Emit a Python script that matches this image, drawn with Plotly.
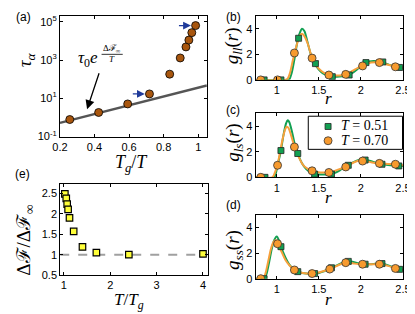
import numpy as np
import plotly.graph_objects as go

W, H = 415, 314

# ---------------- data ----------------
# (a) relaxation time vs Tg/T
tg_over_t = [0.257, 0.424, 0.592, 0.718, 0.835, 0.896, 0.929, 0.946, 0.963, 0.985]
tau_alpha = [0.76, 1.78, 5.0, 16.7, 182, 1290, 4900, 11200, 27500, 64500]
fit_x = [0.2, 1.05]
fit_tau = [0.507, 46.4]

# (e) barrier ratio vs T/Tg
t_over_tg = [1.02, 1.05, 1.07, 1.09, 1.12, 1.21, 1.40, 1.70, 2.40, 4.0]
dF_ratio = [2.49, 2.38, 2.24, 2.11, 1.90, 1.57, 1.19, 1.05, 1.0, 1.02]

# (b) g_ll(r)
b_r_green = [0.75, 1.12, 1.15, 1.18, 1.21, 1.24, 1.27, 1.30, 1.33, 1.36, 1.40, 1.45, 1.50, 1.55, 1.60, 1.65,
             1.70, 1.75, 1.80, 1.85, 1.90, 1.95, 2.00, 2.05, 2.10, 2.15, 2.20, 2.25, 2.30, 2.35, 2.40, 2.45, 2.50]
b_g_green = [0, 0, 0.05, 0.6, 1.6, 2.8, 3.6, 4.0, 3.8, 3.1, 2.1, 1.27, 0.8, 0.5, 0.35, 0.27,
             0.25, 0.27, 0.3, 0.38, 0.55, 0.8, 1.1, 1.33, 1.43, 1.47, 1.45, 1.38, 1.27, 1.15, 1.05, 0.98, 0.94]
b_r_orange = [0.75, 1.10, 1.13, 1.16, 1.19, 1.22, 1.25, 1.28, 1.30, 1.33, 1.37, 1.42, 1.47, 1.52, 1.57, 1.62,
              1.67, 1.72, 1.77, 1.82, 1.87, 1.92, 1.97, 2.02, 2.07, 2.12, 2.17, 2.22, 2.27, 2.32, 2.37, 2.42, 2.47, 2.50]
b_g_orange = [0, 0, 0.1, 0.6, 1.5, 2.3, 3.0, 3.5, 3.6, 3.4, 2.8, 1.7, 1.1, 0.75, 0.52, 0.40,
              0.35, 0.34, 0.36, 0.43, 0.58, 0.78, 0.95, 1.1, 1.25, 1.35, 1.38, 1.35, 1.27, 1.18, 1.1, 1.02, 0.97, 0.94]
b_sq_r = [0.85, 1.05, 1.26, 1.46, 1.66, 1.86, 2.06, 2.26, 2.46]
b_sq_g = [0, 0, 3.25, 1.27, 0.25, 0.38, 1.35, 1.4, 0.97]
b_ci_r = [0.81, 1.01, 1.21, 1.42, 1.62, 1.82, 2.02, 2.22, 2.41]
b_ci_g = [0, 0, 2.1, 1.7, 0.38, 0.43, 1.09, 1.35, 1.02]

# (c) g_ls(r)
c_r_green = [0.75, 0.97, 1.00, 1.03, 1.05, 1.08, 1.11, 1.13, 1.15, 1.18, 1.21, 1.25, 1.30, 1.35, 1.40, 1.45,
             1.50, 1.55, 1.60, 1.65, 1.70, 1.75, 1.80, 1.85, 1.90, 1.95, 2.00, 2.05, 2.10, 2.15, 2.20, 2.25,
             2.30, 2.35, 2.40, 2.45, 2.50]
c_g_green = [0, 0, 0.6, 1.5, 2.1, 3.3, 4.2, 4.45, 4.3, 3.6, 2.7, 1.86, 1.1, 0.65, 0.4, 0.27,
             0.22, 0.22, 0.23, 0.27, 0.38, 0.55, 0.78, 0.98, 1.15, 1.3, 1.38, 1.37, 1.3, 1.2, 1.1, 1.03,
             0.98, 0.95, 0.93, 0.9, 0.88]
c_r_orange = [0.75, 0.95, 0.98, 1.01, 1.04, 1.07, 1.10, 1.12, 1.14, 1.17, 1.21, 1.26, 1.31, 1.36, 1.42, 1.47,
              1.52, 1.57, 1.62, 1.67, 1.72, 1.77, 1.82, 1.87, 1.92, 1.97, 2.02, 2.07, 2.12, 2.17, 2.22, 2.27,
              2.32, 2.37, 2.42, 2.47, 2.50]
c_g_orange = [0, 0, 0.4, 1.0, 2.0, 3.0, 3.75, 3.95, 3.85, 3.3, 2.4, 1.6, 1.0, 0.7, 0.5, 0.42,
              0.38, 0.37, 0.38, 0.45, 0.58, 0.7, 0.82, 1.0, 1.18, 1.3, 1.3, 1.25, 1.18, 1.12, 1.09, 1.07,
              1.05, 1.04, 1.02, 0.97, 0.95]
c_sq_r = [0.86, 1.05, 1.25, 1.45, 1.65, 1.85, 2.05, 2.25, 2.45]
c_sq_g = [0, 2.09, 1.86, 0.25, 0.25, 0.94, 1.35, 1.02, 0.89]
c_ci_r = [0.81, 1.01, 1.21, 1.42, 1.62, 1.82, 2.02, 2.22, 2.41]
c_ci_g = [0, 0.94, 2.37, 0.51, 0.38, 0.81, 1.27, 1.09, 1.02]

# (d) g_ss(r)
d_r_green = [0.75, 0.85, 0.88, 0.91, 0.94, 0.97, 1.00, 1.03, 1.05, 1.10, 1.15, 1.20, 1.25, 1.30, 1.35, 1.40,
             1.45, 1.50, 1.55, 1.60, 1.65, 1.70, 1.75, 1.80, 1.85, 1.90, 1.95, 2.00, 2.05, 2.10, 2.15, 2.20,
             2.25, 2.30, 2.35, 2.40, 2.45, 2.50]
d_g_green = [0, 0, 0.4, 1.3, 2.3, 3.0, 3.3, 2.95, 2.5, 1.7, 1.1, 0.75, 0.55, 0.45, 0.4, 0.38,
             0.4, 0.45, 0.55, 0.7, 0.85, 1.0, 1.15, 1.28, 1.35, 1.32, 1.22, 1.15, 1.13, 1.13, 1.15, 1.18,
             1.18, 1.1, 0.98, 0.85, 0.75, 0.68]
d_r_orange = [0.75, 0.84, 0.87, 0.90, 0.93, 0.96, 0.99, 1.01, 1.05, 1.10, 1.15, 1.21, 1.27, 1.33, 1.38, 1.42,
              1.47, 1.52, 1.57, 1.63, 1.68, 1.73, 1.78, 1.82, 1.87, 1.92, 1.97, 2.02, 2.07, 2.12, 2.17, 2.22,
              2.27, 2.32, 2.37, 2.41, 2.46, 2.50]
d_g_orange = [0, 0, 0.5, 1.4, 2.3, 2.85, 3.0, 2.75, 2.2, 1.5, 1.05, 0.68, 0.5, 0.42, 0.4, 0.4,
              0.45, 0.52, 0.62, 0.75, 0.9, 1.05, 1.18, 1.25, 1.23, 1.18, 1.14, 1.13, 1.12, 1.12, 1.13, 1.13,
              1.08, 1.0, 0.9, 0.8, 0.73, 0.68]
d_sq_r = [0.85, 1.05, 1.25, 1.45, 1.65, 1.85, 2.05, 2.25, 2.46]
d_sq_g = [0, 2.5, 0.55, 0.4, 0.85, 1.35, 1.13, 1.18, 0.73]
d_ci_r = [0.81, 1.01, 1.21, 1.42, 1.63, 1.82, 2.02, 2.22, 2.41]
d_ci_g = [0, 2.73, 0.68, 0.4, 0.75, 1.25, 1.13, 1.13, 0.8]

legend_labels = ["<i>T</i> = 0.51", "<i>T</i> = 0.70"]

# ---------------- styles ----------------
GREEN = "#12a052"
ORANGE = "#f7a03c"
ORANGE_M = "#f79a2e"
BROWN = "#a8560e"
SANS = "Liberation Sans, Arial, sans-serif"
SERIF = "Liberation Serif, Times New Roman, serif"


def px_dom_x(a, b):
    return [a / W, b / W]


def px_dom_y(top, bot):
    return [1 - bot / H, 1 - top / H]


fig = go.Figure()

axis_common = dict(showline=True, linecolor="black", linewidth=1, mirror="allticks",
                   ticks="inside", ticklen=3, tickcolor="black", showgrid=False, zeroline=False,
                   tickfont=dict(family=SANS, size=11, color="black"))

SQ = dict(symbol="square", color=GREEN, size=6, line=dict(color="#222222", width=0.8))
CI = dict(symbol="circle", color=ORANGE_M, size=8, line=dict(color="#333333", width=0.8))

# panel (a)
fig.add_trace(go.Scatter(x=fit_x, y=fit_tau, mode="lines", line=dict(color="#555555", width=2.5),
                         xaxis="x", yaxis="y", showlegend=False))
fig.add_trace(go.Scatter(x=tg_over_t, y=tau_alpha, mode="markers",
                         marker=dict(color=BROWN, size=8, line=dict(color="black", width=0.8)),
                         xaxis="x", yaxis="y", showlegend=False))

# panel (e)
fig.add_trace(go.Scatter(x=[0.92, 4.1], y=[1, 1], mode="lines",
                         line=dict(color="#a0a0a0", width=2, dash="dash"),
                         xaxis="x2", yaxis="y2", showlegend=False))
fig.add_trace(go.Scatter(x=t_over_tg, y=dF_ratio, mode="markers",
                         marker=dict(symbol="square", color="#ffff3a", size=6.5,
                                     line=dict(color="black", width=1.2)),
                         xaxis="x2", yaxis="y2", showlegend=False))

panels = [
    ("x3", "y3", b_r_green, b_g_green, b_r_orange, b_g_orange, b_sq_r, b_sq_g, b_ci_r, b_ci_g),
    ("x4", "y4", c_r_green, c_g_green, c_r_orange, c_g_orange, c_sq_r, c_sq_g, c_ci_r, c_ci_g),
    ("x5", "y5", d_r_green, d_g_green, d_r_orange, d_g_orange, d_sq_r, d_sq_g, d_ci_r, d_ci_g),
]
for xa, ya, rg, gg, ro, go_, sr, sg, cr, cg in panels:
    fig.add_trace(go.Scatter(x=rg, y=gg, mode="lines", line=dict(color=GREEN, width=2, shape="spline", smoothing=0.6),
                             xaxis=xa, yaxis=ya, showlegend=False))
    fig.add_trace(go.Scatter(x=ro, y=go_, mode="lines", line=dict(color=ORANGE, width=2, shape="spline", smoothing=0.6),
                             xaxis=xa, yaxis=ya, showlegend=False))
    fig.add_trace(go.Scatter(x=sr, y=sg, mode="markers", marker=SQ, xaxis=xa, yaxis=ya, showlegend=False))
    fig.add_trace(go.Scatter(x=cr, y=cg, mode="markers", marker=CI, xaxis=xa, yaxis=ya, showlegend=False))

# legend key markers, drawn on an invisible overlay axis covering the legend box
fig.add_trace(go.Scatter(x=[0.21], y=[0.69], mode="markers", marker=SQ, xaxis="x6", yaxis="y6",
                         showlegend=False, cliponaxis=False))
fig.add_trace(go.Scatter(x=[0.21], y=[0.26], mode="markers", marker=CI, xaxis="x6", yaxis="y6",
                         showlegend=False, cliponaxis=False))

layout = dict(
    width=W, height=H, margin=dict(l=0, r=0, t=0, b=0), showlegend=False,
    paper_bgcolor="white", plot_bgcolor="white",
    xaxis=dict(domain=px_dom_x(45.7, 198.5), range=[0.2, 1.05], tickvals=[0.2, 0.4, 0.6, 0.8, 1.0],
               ticktext=["0.2", "0.4", "0.6", "0.8", "1"], anchor="y", **axis_common),
    yaxis=dict(domain=px_dom_y(6, 130), type="log", range=[-1.02, 5.32],
               tickvals=[0.1, 10, 1000, 100000],
               ticktext=["10<sup>-1</sup>", "10<sup>1</sup>", "10<sup>3</sup>", "10<sup>5</sup>"],
               anchor="x", **axis_common),
    xaxis2=dict(domain=px_dom_x(46, 199.3), range=[0.92, 4.1], tickvals=[1, 2, 3, 4], anchor="y2", **axis_common),
    yaxis2=dict(domain=px_dom_y(179, 272), range=[0.5, 2.72], tickvals=[0.5, 1, 1.5, 2, 2.5],
                ticktext=["0.5", "1", "1.5", "2", "2.5"], anchor="x2", **axis_common),
    xaxis6=dict(domain=px_dom_x(304, 402), range=[0, 1], visible=False, anchor="y6"),
    yaxis6=dict(domain=px_dom_y(109, 143), range=[0, 1], visible=False, anchor="x6"),
)
rdom = px_dom_x(249.3, 402.5)
for i, (top, bot) in zip([3, 4, 5], [(6, 71.7), (106, 171.7), (210, 275.7)]):
    layout[f"xaxis{i}"] = dict(domain=rdom, range=[0.75, 2.5], tickvals=[1, 1.5, 2, 2.5],
                               ticktext=["1", "1.5", "2", "2.5"], anchor=f"y{i}", **axis_common)
    layout[f"yaxis{i}"] = dict(domain=px_dom_y(top, bot), range=[0, 5], tickvals=[0, 2, 4],
                               anchor=f"x{i}", **axis_common)
fig.update_layout(**layout)

# legend box
fig.add_shape(type="rect", xref="paper", yref="paper", x0=304 / W, x1=402 / W,
              y0=1 - 143 / H, y1=1 - 109 / H, line=dict(color="black", width=1), layer="above")


def ann(text, px, py, size, family=SERIF, angle=0, xanchor="center", **kw):
    fig.add_annotation(text=text, x=px / W, y=1 - py / H, xref="paper", yref="paper",
                       showarrow=False, textangle=angle, xanchor=xanchor, yanchor="middle",
                       font=dict(family=family, size=size, color="black"), **kw)


ann(legend_labels[0], 336, 118.5, 14, xanchor="left")
ann(legend_labels[1], 336, 134, 14, xanchor="left")

# panel letters
ann("(a)", 8, 7, 12, SANS)
ann("(b)", 226, 7, 12, SANS)
ann("(c)", 226, 103, 12, SANS)
ann("(d)", 226, 200, 12, SANS)
ann("(e)", 7, 168, 12, SANS)

# axis titles
ann("<i>τ</i><sub><i>α</i></sub>", 10, 51, 19, angle=-90)
ann("<i>T</i><sub><i>g</i></sub>/<i>T</i>", 120, 157, 18)
ann("Δℱ/Δℱ<sub>∞</sub>", 9, 236, 19, angle=-90)
ann("<i>T</i>/<i>T</i><sub><i>g</i></sub>", 118, 299, 17)
ann("<i>g</i><sub><i>ll</i></sub>(<i>r</i>)", 226, 37, 19, angle=-90)
ann("<i>g</i><sub><i>ls</i></sub>(<i>r</i>)", 226, 136, 19, angle=-90)
ann("<i>g</i><sub><i>ss</i></sub>(<i>r</i>)", 226, 246, 19, angle=-90)
ann("<i>r</i>", 325, 91, 17)
ann("<i>r</i>", 325, 192, 17)
ann("<i>r</i>", 325, 297, 17)

# formula annotation in (a)
ann("<i>τ</i><sub>0</sub><i>e</i>", 75, 50, 17)
ann("Δℱ<sub>∞</sub>", 100, 39, 9)
ann("<i>T</i>", 100, 50, 9)
fig.add_shape(type="line", xref="paper", yref="paper", x0=89 / W, x1=111 / W,
              y0=1 - 45.5 / H, y1=1 - 45.5 / H, line=dict(color="black", width=0.8))

# arrows in (a)
fig.add_annotation(x=0.357, y=0.42, xref="x", yref="y", ax=15, ay=-45, showarrow=True,
                   arrowhead=2, arrowsize=1.4, arrowwidth=1.3, arrowcolor="black", text=" ")
for i in (3, 9):
    fig.add_annotation(x=tg_over_t[i] - 0.027, y=np.log10(tau_alpha[i]), xref="x", yref="y",
                       ax=-15, ay=0, showarrow=True, arrowhead=2, arrowsize=1.2, arrowwidth=1.3,
                       arrowcolor="#1f3a9a", text=" ")

fig.write_html("out.html")
